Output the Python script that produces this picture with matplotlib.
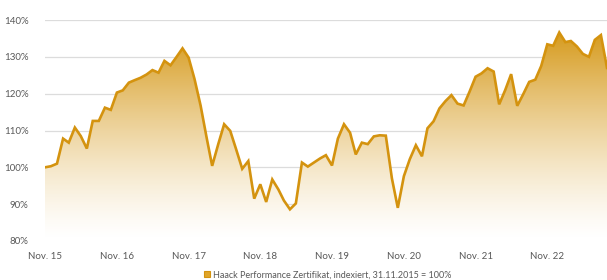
import numpy as np
import pandas as pd
import matplotlib
matplotlib.use("Agg")
import matplotlib.pyplot as plt
import matplotlib.dates as mdates
from matplotlib.colors import LinearSegmentedColormap
from matplotlib.patches import Patch

########## DATA (monthly, indexed 100% at Nov. 2015) ##########
start_month = "2015-11-01"
values = [
    100.0, 100.3, 101.0, 107.8, 106.7, 110.8, 108.5, 105.1, 112.6, 112.6,
    116.2, 115.6, 120.3, 120.9, 123.0, 123.7, 124.3, 125.2, 126.4, 125.7,
    128.9, 127.7, 130.0, 132.3, 129.8, 124.0, 116.8, 108.0, 100.4, 106.3,
    111.7, 109.9, 104.9, 99.6, 101.7, 91.5, 95.4, 90.6, 96.7, 94.0,
    91.0, 88.6, 90.2, 101.3, 100.2, 101.3, 102.4, 103.3, 100.5, 107.8,
    111.7, 109.4, 103.5, 106.7, 106.3, 108.4, 108.7, 108.6, 97.0, 89.0,
    97.6, 102.2, 106.0, 103.0, 110.6, 112.5, 116.0, 118.0, 119.6, 117.3,
    116.8, 120.5, 124.6, 125.5, 126.9, 126.0, 117.1, 121.0, 125.3, 116.7,
    119.8, 123.2, 123.8, 127.5, 133.4, 133.0, 136.6, 134.0, 134.3, 132.8,
    130.8, 130.0, 134.6, 135.9, 127.0,
]
tick_years = [2015, 2016, 2017, 2018, 2019, 2020, 2021, 2022]
tick_labels = ["Nov. 15", "Nov. 16", "Nov. 17", "Nov. 18", "Nov. 19",
               "Nov. 20", "Nov. 21", "Nov. 22"]
y_ticks = [80, 90, 100, 110, 120, 130, 140]
legend_label = "Haack Performance Zertifikat, indexiert, 31.11.2015 = 100%"

gold = "#D4930F"
text_grey = "#595959"

plt.rcParams["font.family"] = ["Lato", "DejaVu Sans"]

dates = pd.date_range(start_month, periods=len(values), freq="MS")
xnum = mdates.date2num(dates)

fig = plt.figure(figsize=(6.07, 2.80), dpi=100)
ax = fig.add_axes([45 / 607, 39 / 280, 562 / 607, 221 / 280])

y_lo, y_hi = 80, 140
ax.set_ylim(y_lo, y_hi)
ax.set_xlim(xnum[0], xnum[-1])

# grid behind everything
for yv in y_ticks[1:]:
    ax.axhline(yv, color="#DCDCDC", lw=0.9, zorder=0)

# gradient fill under the line
poly = ax.fill_between(xnum, values, y_lo, color="none", lw=0, zorder=1)
frac = np.linspace(0, 1, 256) ** 1.35
cmap = LinearSegmentedColormap.from_list("gold_fade", ["#FFFFFF", "#D3930C"])
grad = frac[:, None]
img = ax.imshow(grad, cmap=cmap, vmin=0, vmax=1, aspect="auto", origin="lower",
                extent=[xnum[0], xnum[-1], y_lo, y_hi], zorder=1)
img.set_clip_path(poly.get_paths()[0], transform=ax.transData)

ax.plot(xnum, values, color=gold, lw=1.9, solid_joinstyle="miter", zorder=3)

# axes styling
for s in ax.spines.values():
    s.set_visible(False)
ax.set_yticks(y_ticks)
ax.set_yticklabels(["%d%%" % v for v in y_ticks])
ax.set_xticks([mdates.date2num(pd.Timestamp("%d-11-01" % y)) for y in tick_years])
ax.set_xticklabels(tick_labels)
ax.tick_params(axis="both", length=0, labelsize=7, colors=text_grey)
ax.tick_params(axis="y", pad=12)
ax.tick_params(axis="x", pad=8)

handle = Patch(facecolor="#E0A52A", edgecolor=gold, lw=0.8)
leg = fig.legend(handles=[handle], labels=[legend_label], loc="center",
                 bbox_to_anchor=(0.54, 0.018), frameon=False, fontsize=6.5,
                 handlelength=0.7, handleheight=0.7, handletextpad=0.3,
                 borderpad=0, borderaxespad=0)
for t in leg.get_texts():
    t.set_color(text_grey)

fig.savefig("out.png", dpi=100)
